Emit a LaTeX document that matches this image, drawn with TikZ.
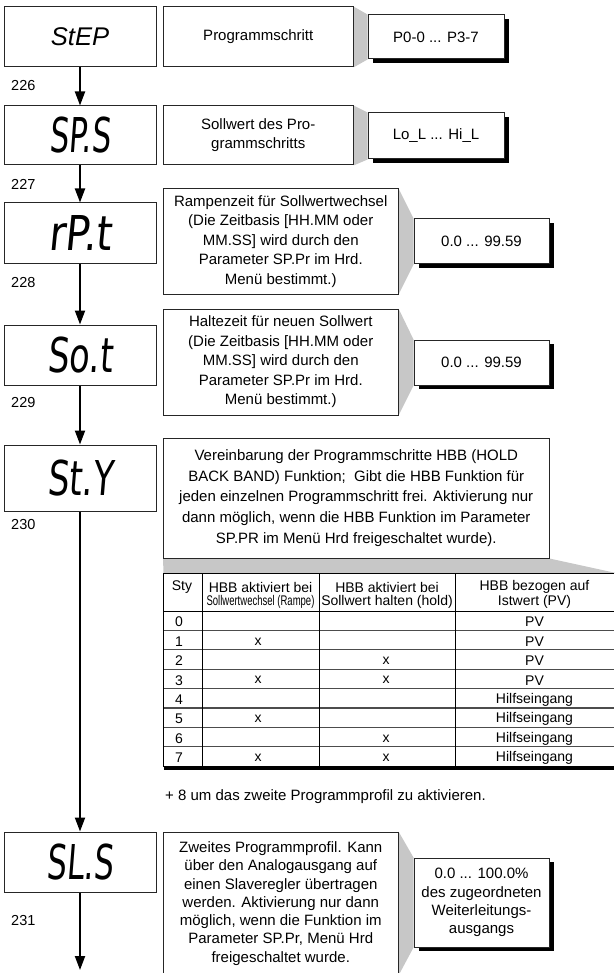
\documentclass[tikz,border=0pt]{standalone}
\usepackage{fontspec}
\setmainfont{Liberation Sans}
\newfontfamily\segfont[FakeSlant=0.12]{DejaVu Sans}
\usetikzlibrary{arrows.meta,shadows,backgrounds}
\begin{document}
\begin{tikzpicture}[x=1pt,y=-1pt,
  dispbox/.style={draw=black!85,line width=1pt,minimum width=152pt,inner sep=0pt},
  descbox/.style={draw=black!85,line width=1pt,inner sep=0pt,align=center},
  valbox/.style={draw=black!85,fill=white,line width=1pt,inner sep=0pt,align=center,
    drop shadow={shadow xshift=4.5pt,shadow yshift=-4pt,fill=black,opacity=1}},
  conn/.style={fill=black!22},
  flow/.style={line width=2pt,-{Triangle[length=14pt,width=10pt]}},
  numlbl/.style={anchor=west,inner sep=0pt,font=\fontsize{14.5}{16}\selectfont},
  segtxt/.style={font=\segfont\fontsize{48}{48}\selectfont},
  tcell/.style={inner sep=0pt,font=\fontsize{14}{15}\selectfont},
  rowline/.style={line width=1.1pt,draw=black!70},
  tline/.style={line width=1pt,draw=black},
]
\useasboundingbox (0,0) rectangle (614,973);

% ---------- display boxes ----------
\node[dispbox,minimum height=60pt] (step) at (80,37) {\fontsize{25.6}{26}\selectfont\itshape StEP};
\node[dispbox,minimum height=59pt,segtxt] (sps) at (80,135.5) {\scalebox{0.63}[1]{SP.S}};
\node[dispbox,minimum height=61pt,segtxt] (rpt) at (80,233.5) {\scalebox{0.84}[1]{rP.t}};
\node[dispbox,minimum height=60pt,segtxt] (sot) at (80,355) {\scalebox{0.7}[1]{So.t}};
\node[dispbox,minimum height=66pt,segtxt] (sty) at (80,478) {\scalebox{0.7}[1]{St.Y}};
\node[dispbox,minimum height=60pt,segtxt] (sls) at (80,862) {\scalebox{0.65}[1]{SL.S}};
\coordinate (endpt) at (80,970);

% ---------- parameter numbers ----------
\node[numlbl] (l226) at (11,86) {226};
\node[numlbl] (l227) at (11,184) {227};
\node[numlbl] (l228) at (11,283) {228};
\node[numlbl] (l229) at (11,403) {229};
\node[numlbl] (l230) at (11,525) {230};
\node[numlbl] (l231) at (11,920) {231};

% ---------- flow arrows ----------
\draw[flow] (step) -- (sps);
\draw[flow] (sps) -- (rpt);
\draw[flow] (rpt) -- (sot);
\draw[flow] (sot) -- (sty);
\draw[flow] (sty) -- (sls);
\draw[flow] (sls) -- (endpt);

% ---------- description boxes ----------
\node[descbox,minimum width=189.5pt,minimum height=60pt,font=\fontsize{15}{19}\selectfont] (d1) at (258.25,37) {Programmschritt};
\node[descbox,minimum width=189.5pt,minimum height=59pt,font=\fontsize{15}{19}\selectfont] (d2) at (258.25,135.5) {Sollwert des Pro-\\grammschritts};
\node[descbox,minimum width=234.5pt,minimum height=105pt,font=\fontsize{15}{19.5}\selectfont] (d3) at (280.75,241.5)
  {Rampenzeit für Sollwertwechsel\\(Die Zeitbasis [HH.MM oder\\MM.SS] wird durch den\\Parameter SP.Pr im Hrd.\\Menü bestimmt.)};
\node[descbox,minimum width=234.5pt,minimum height=106pt,font=\fontsize{15}{19.5}\selectfont] (d4) at (280.75,362)
  {Haltezeit für neuen Sollwert\\(Die Zeitbasis [HH.MM oder\\MM.SS] wird durch den\\Parameter SP.Pr im Hrd.\\Menü bestimmt.)};
\node[descbox,minimum width=385.5pt,minimum height=120pt,font=\fontsize{15}{20.7}\selectfont] (d5) at (356.25,498)
  {Vereinbarung der Programmschritte HBB (HOLD\\BACK BAND) Funktion;\ \ Gibt die HBB Funktion für\\jeden einzelnen Programmschritt frei. Aktivierung nur\\dann möglich, wenn die HBB Funktion im Parameter\\SP.PR im Menü Hrd freigeschaltet wurde).};
\node[descbox,minimum width=234.5pt,minimum height=143pt,font=\fontsize{15}{18.3}\selectfont] (d6) at (280.75,903.5)
  {Zweites Programmprofil. Kann\\über den Analogausgang auf\\einen Slaveregler übertragen\\werden. Aktivierung nur dann\\möglich, wenn die Funktion im\\Parameter SP.Pr, Menü Hrd\\freigeschaltet wurde.};

% ---------- value boxes ----------
\node[valbox,minimum width=136pt,minimum height=44pt,font=\fontsize{15}{18}\selectfont] (v1) at (436,37) {P0-0 ... P3-7};
\node[valbox,minimum width=136pt,minimum height=46pt,font=\fontsize{15}{18}\selectfont] (v2) at (436,136) {Lo\_L ... Hi\_L};
\node[valbox,minimum width=135pt,minimum height=45pt,font=\fontsize{15}{18}\selectfont] (v3) at (481.5,241.5) {0.0 ... 99.59};
\node[valbox,minimum width=135pt,minimum height=45pt,font=\fontsize{15}{18}\selectfont] (v4) at (481.5,362.5) {0.0 ... 99.59};
\node[valbox,minimum width=135pt,minimum height=89pt,font=\fontsize{15}{18.3}\selectfont] (v5) at (481.5,902.5)
  {0.0 ... 100.0\%\\des zugeordneten\\Weiterleitungs-\\ausgangs};

% ---------- grey connectors ----------
\begin{scope}[on background layer]
  \fill[conn] (d1.north east) -- (v1.north west) -- (v1.south west) -- (d1.south east) -- cycle;
  \fill[conn] (d2.north east) -- (v2.north west) -- (v2.south west) -- (d2.south east) -- cycle;
  \fill[conn] (d3.north east) -- (v3.north west) -- (v3.south west) -- (d3.south east) -- cycle;
  \fill[conn] (d4.north east) -- (v4.north west) -- (v4.south west) -- (d4.south east) -- cycle;
  \fill[conn] (d6.north east) -- (v5.north west) -- (v5.south west) -- (d6.south east) -- cycle;
  \fill[conn] (d5.south west) -- (d5.south east) -- (616,573) -- (163.5,573) -- cycle;
\end{scope}

% ---------- table ----------
\draw[tline] (163.5,573) -- (614,573);
\draw[tline] (163.5,611) -- (614,611);
\foreach \i in {1,...,7} \draw[rowline] (163.5,{611+19.4*\i}) -- (614,{611+19.4*\i});
\foreach \xx in {163.5,202,319,455} \draw[tline] (\xx,573) -- (\xx,767);
\draw[line width=4pt] (163.5,768) -- (614,768);

\node[tcell] (hsty) at (182,587) {Sty};
\node[tcell] (ha1) at (260.5,587) {HBB aktiviert bei};
\node[tcell] (ha2) at (260.5,602) {\scalebox{0.68}[1]{Sollwertwechsel (Rampe)}};
\node[tcell] (hb1) at (387,587) {HBB aktiviert bei};
\node[tcell] (hb2) at (387,602) {Sollwert halten (hold)};
\node[tcell] (hc1) at (534.5,587) {HBB bezogen auf};
\node[tcell] (hc2) at (534.5,602) {Istwert (PV)};

\foreach \i/\a/\b/\c in {0/{}/{}/PV,1/x/{}/PV,2/{}/x/PV,3/x/x/PV,4/{}/{}/Hilfseingang,5/x/{}/Hilfseingang,6/{}/x/Hilfseingang,7/x/x/Hilfseingang}{
  \node[tcell] (s\i) at (179,{622+19.4*\i}) {\i};
  \node[tcell] (a\i) at (258,{622+19.4*\i}) {\a};
  \node[tcell] (b\i) at (386,{622+19.4*\i}) {\b};
  \node[tcell] (c\i) at (534.5,{622+19.4*\i}) {\c};
}

\node[anchor=west,inner sep=0pt,font=\fontsize{15}{18}\selectfont] (note) at (165,797) {+ 8 um das zweite Programmprofil zu aktivieren.};
\end{tikzpicture}
\end{document}
